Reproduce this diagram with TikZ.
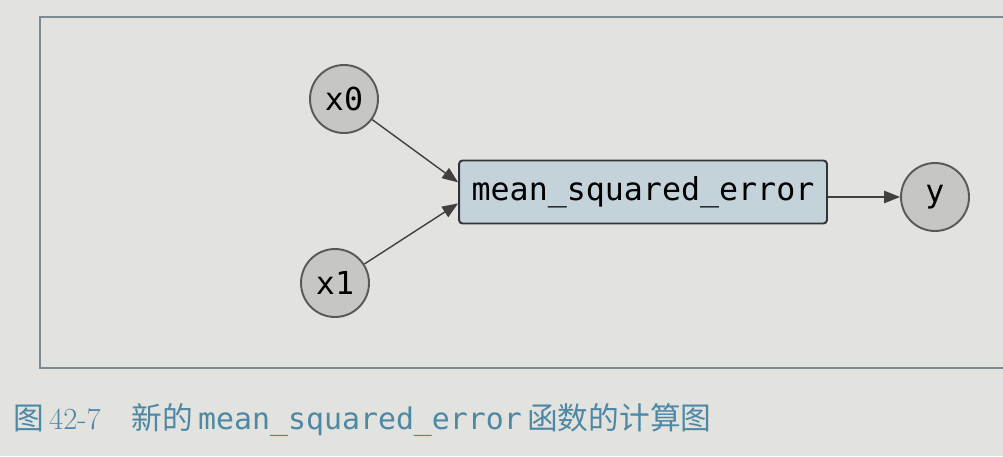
\documentclass[tikz,border=0pt]{standalone}
\usepackage{fontspec}
\setmonofont{DejaVu Sans Mono}
\newfontfamily\cjk{Noto Sans CJK SC}
\usetikzlibrary{arrows.meta}
\definecolor{paper}{HTML}{E2E2DE}
\definecolor{varfill}{HTML}{C6C6C4}
\definecolor{funcfill}{HTML}{C4D2DA}
\definecolor{captioncol}{HTML}{4E88A4}

\begin{document}
\begin{tikzpicture}[x=0.02cm, y=-0.02cm,
    var/.style={circle, draw=black!65, line width=1.1pt, fill=varfill, minimum size=1.36cm, inner sep=0pt, font=\fontsize{18}{20}\ttfamily},
    func/.style={rectangle, rounded corners=2pt, draw=black!80, line width=1.1pt, fill=funcfill, minimum width=7.36cm, minimum height=1.26cm, font=\fontsize{18}{20}\ttfamily},
    link/.style={draw=black!75, line width=0.8pt, -{Triangle[length=9pt, width=7pt]}}]
		\fill[paper] (0,0) rectangle (1003,456);
		\useasboundingbox (0,0) rectangle (1003,456);
		\draw[color=black!45!cyan!30!gray, line width=0.8pt] (1010,17) -- (40,17) -- (40,368) -- (1010,368);
		\node[var] (x0) at (344,99) {x0};
		\node[var] (x1) at (335,283) {x1};
		\node[func] (msq) at (643,192) {mean\_squared\_error};
		\node[var] (y) at (935,197) {y};
		\draw[link] (x0) -- ([yshift=5.5pt]msq.west);
		\draw[link] (x1) -- ([yshift=-6.5pt]msq.west);
		\draw[link] (msq.east |- y.west) -- (y.west);
		\node[anchor=west, text=captioncol, inner sep=0pt, font=\fontsize{17.5}{20}\selectfont] (cap) at (13,420) {{\cjk 图}\,42-7\quad{\cjk 新的}\,{\ttfamily\fontsize{17}{20}\selectfont mean\_squared\_error}\,{\cjk 函数的计算图}};
		\end{tikzpicture}
\end{document}
